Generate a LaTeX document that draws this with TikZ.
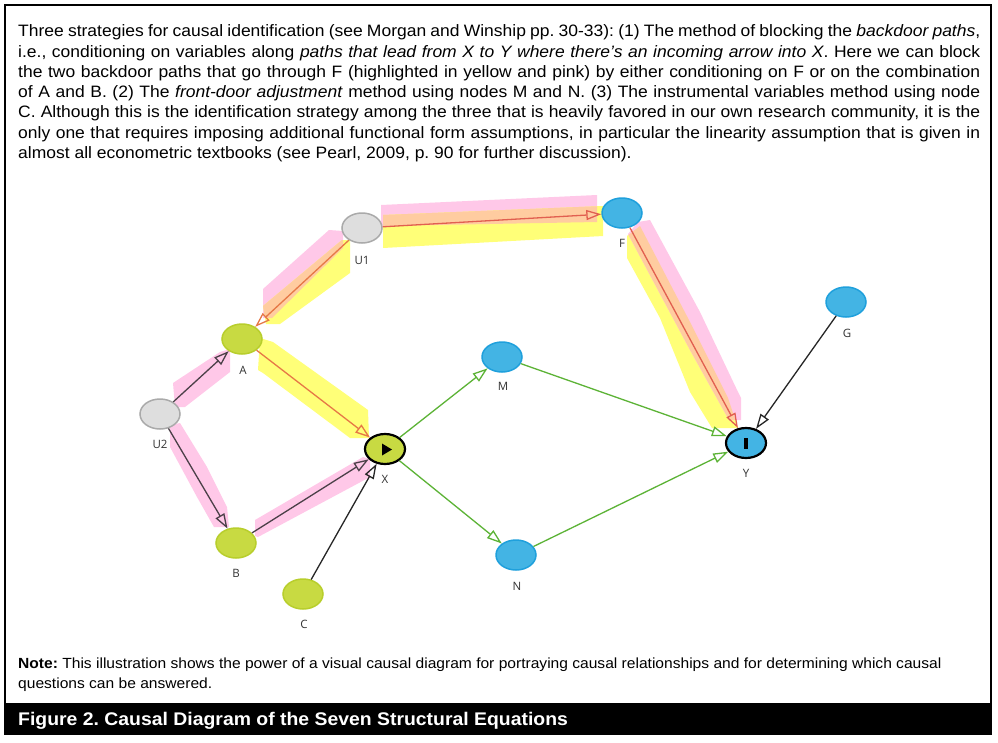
\documentclass[tikz,border=0pt]{standalone}
\usepackage{fontspec}
\setmainfont{Liberation Sans}[FakeStretch=1.06]
\newfontfamily\lblfont{Open Sans}
\usetikzlibrary{shapes.geometric,arrows.meta}
\definecolor{hlpink}{RGB}{255,200,232}
\definecolor{hlyellow}{RGB}{255,255,120}
\definecolor{hlorange}{RGB}{255,204,160}
\definecolor{greyfill}{RGB}{222,222,222}
\definecolor{greydraw}{RGB}{170,170,170}
\definecolor{greenfill}{RGB}{200,218,66}
\definecolor{greendraw}{RGB}{184,206,44}
\definecolor{bluefill}{RGB}{67,180,228}
\definecolor{bluedraw}{RGB}{31,160,220}
\definecolor{edgegreen}{RGB}{92,179,54}
\definecolor{edgeorange}{RGB}{230,120,70}
\definecolor{edgered}{RGB}{225,95,80}
\definecolor{edgedark}{RGB}{75,64,72}
\definecolor{lblgrey}{RGB}{51,51,51}
\frenchspacing
\begin{document}
\begin{tikzpicture}[x=1pt,y=-1pt,
  vnode/.style={ellipse,minimum width=40pt,minimum height=30pt,inner sep=0pt,line width=1.5pt},
  greynode/.style={vnode,fill=greyfill,draw=greydraw},
  greennode/.style={vnode,fill=greenfill,draw=greendraw},
  bluenode/.style={vnode,fill=bluefill,draw=bluedraw},
  keynode/.style={draw=black,line width=2.2pt},
  lbl/.style={inner sep=0pt,font=\lblfont\fontsize{11.5}{13}\selectfont,text=lblgrey},
  arr/.style={-{Triangle[open,length=15pt,width=10pt]},line width=1.3pt},
  txt/.style={anchor=base west,inner sep=0pt,font=\fontsize{16.5}{20}\selectfont},
  notetxt/.style={anchor=base west,inner sep=0pt,font=\fontsize{14.7}{17}\selectfont},
  captxt/.style={anchor=base west,inner sep=0pt,text=white,font=\bfseries\fontsize{18.3}{21}\selectfont}]
\useasboundingbox (0,0) rectangle (998,742);
\fill[white] (0,0) rectangle (998,742);
\draw[line width=2pt] (5,5) rectangle (991,734);

% description text
\node[txt] (t1) at (18,36.7) {\makebox[962pt][s]{Three strategies for causal identification (see Morgan and Winship pp. 30-33): (1) The method of blocking the \textit{backdoor paths},}};
\node[txt] (t2) at (18,57) {\makebox[962pt][s]{i.e., conditioning on variables along \textit{paths that lead from X to Y where there’s an incoming arrow into X}. Here we can block}};
\node[txt] (t3) at (18,77.3) {\makebox[962pt][s]{the two backdoor paths that go through F (highlighted in yellow and pink) by either conditioning on F or on the combination}};
\node[txt] (t4) at (18,97.5) {\makebox[962pt][s]{of A and B. (2) The \textit{front-door adjustment} method using nodes M and N. (3) The instrumental variables method using node}};
\node[txt] (t5) at (18,117.8) {\makebox[962pt][s]{C. Although this is the identification strategy among the three that is heavily favored in our own research community, it is the}};
\node[txt] (t6) at (18,138.1) {\makebox[962pt][s]{only one that requires imposing additional functional form assumptions, in particular the linearity assumption that is given in}};
\node[txt] (t7) at (18,158.3) {almost all econometric textbooks (see Pearl, 2009, p. 90 for further discussion).};

% highlights U1 -> F
\fill[hlpink] (381,205) -- (597,195) -- (597,222) -- (381,226) -- cycle;
\fill[hlyellow] (383,215) -- (603,206) -- (603,236) -- (383,248) -- cycle;
\begin{scope}
\clip (381,205) -- (597,195) -- (597,222) -- (381,226) -- cycle;
\fill[hlorange] (383,215) -- (603,206) -- (603,236) -- (383,248) -- cycle;
\end{scope}
% highlights U1 -> A
\fill[hlpink] (263,289) -- (329,230) -- (343,231) -- (343,248) -- (272,318) -- (263,318) -- cycle;
\fill[hlyellow] (263,306) -- (342,240) -- (350,240) -- (350,273) -- (280,324) -- (266,324) -- cycle;
\begin{scope}
\clip (263,289) -- (329,230) -- (343,231) -- (343,248) -- (272,318) -- (263,318) -- cycle;
\fill[hlorange] (263,306) -- (342,240) -- (350,240) -- (350,273) -- (280,324) -- (266,324) -- cycle;
\end{scope}
% highlights F -> Y
\fill[hlyellow] (627,236) -- (640,226) -- (690,322) -- (728,398) -- (738,428) -- (712,428) -- (690,392) -- (660,318) -- (627,258) -- cycle;
\fill[hlpink] (638,222) -- (650,220) -- (700,312) -- (738,392) -- (741,398) -- (741,420) -- (729,420) -- (690,350) -- (628,234) -- cycle;
\begin{scope}
\clip (627,236) -- (640,226) -- (690,322) -- (728,398) -- (738,428) -- (712,428) -- (690,392) -- (660,318) -- (627,258) -- cycle;
\fill[hlorange] (638,222) -- (650,220) -- (700,312) -- (738,392) -- (741,398) -- (741,420) -- (729,420) -- (690,350) -- (628,234) -- cycle;
\end{scope}
% highlight A -> X
\fill[hlyellow] (260,338) -- (273,342) -- (368,410) -- (369,438) -- (350,438) -- (263,373) -- (258,370) -- cycle;
% pink highlights around U2 and B
\fill[hlpink] (173,383) -- (220,352) -- (230,349) -- (230,372) -- (185,407) -- (175,407) -- cycle;
\fill[hlpink] (170,425) -- (180,423) -- (207,467) -- (227,507) -- (229,527) -- (214,527) -- (197,497) -- (170,447) -- cycle;
\fill[hlpink] (255,520) -- (363,457) -- (370,459) -- (370,477) -- (258,537) -- (255,536) -- cycle;

% nodes
\node[greynode] (U1) at (362,228) {};
\node[bluenode] (F) at (622,213) {};
\node[bluenode] (G) at (846,302) {};
\node[greennode] (A) at (242,339) {};
\node[greynode] (U2) at (160,414) {};
\node[greennode,keynode] (X) at (385,449) {};
\node[bluenode] (M) at (502,357) {};
\node[bluenode,keynode] (Y) at (746,443) {};
\node[greennode] (B) at (236,543) {};
\node[greennode] (C) at (303,594) {};
\node[bluenode] (N) at (516,555) {};
\fill[black] (382,443.5) -- (392,449.5) -- (382,455.5) -- cycle;
\fill[black] (744,437.5) rectangle (747.8,448.5);

% edges
\draw[arr,edgeorange] (U1) -- (A);
\draw[arr,edgered] (U1) -- (F);
\draw[arr,edgered] (F) -- (Y);
\draw[arr,edgeorange] (A) -- (X);
\draw[arr,edgedark] (U2) -- (A);
\draw[arr,edgedark] (U2) -- (B);
\draw[arr,edgedark] (B) -- (X);
\draw[arr,black!85] (C) -- (X);
\draw[arr,black!85] (G) -- (Y);
\draw[arr,edgegreen] (X) -- (M);
\draw[arr,edgegreen] (X) -- (N);
\draw[arr,edgegreen] (M) -- (Y);
\draw[arr,edgegreen] (N) -- (Y);

% labels
\node[lbl] (lU1) at (362,260) {U1};
\node[lbl] (lF) at (622,243) {F};
\node[lbl] (lG) at (847,333) {G};
\node[lbl] (lA) at (243,370) {A};
\node[lbl] (lU2) at (160,444) {U2};
\node[lbl] (lX) at (385,479) {X};
\node[lbl] (lM) at (503,386) {M};
\node[lbl] (lY) at (746,473) {Y};
\node[lbl] (lB) at (236,573) {B};
\node[lbl] (lC) at (304,624) {C};
\node[lbl] (lN) at (517,586) {N};

% note
\node[notetxt] (n1) at (18,668) {\textbf{Note:} This illustration shows the power of a visual causal diagram for portraying causal relationships and for determining which causal};
\node[notetxt] (n2) at (18,688) {questions can be answered.};

% caption bar
\fill[black] (5,703) rectangle (991,734);
\node[captxt] (cap) at (18,725) {Figure 2. Causal Diagram of the Seven Structural Equations};
\end{tikzpicture}
\end{document}
